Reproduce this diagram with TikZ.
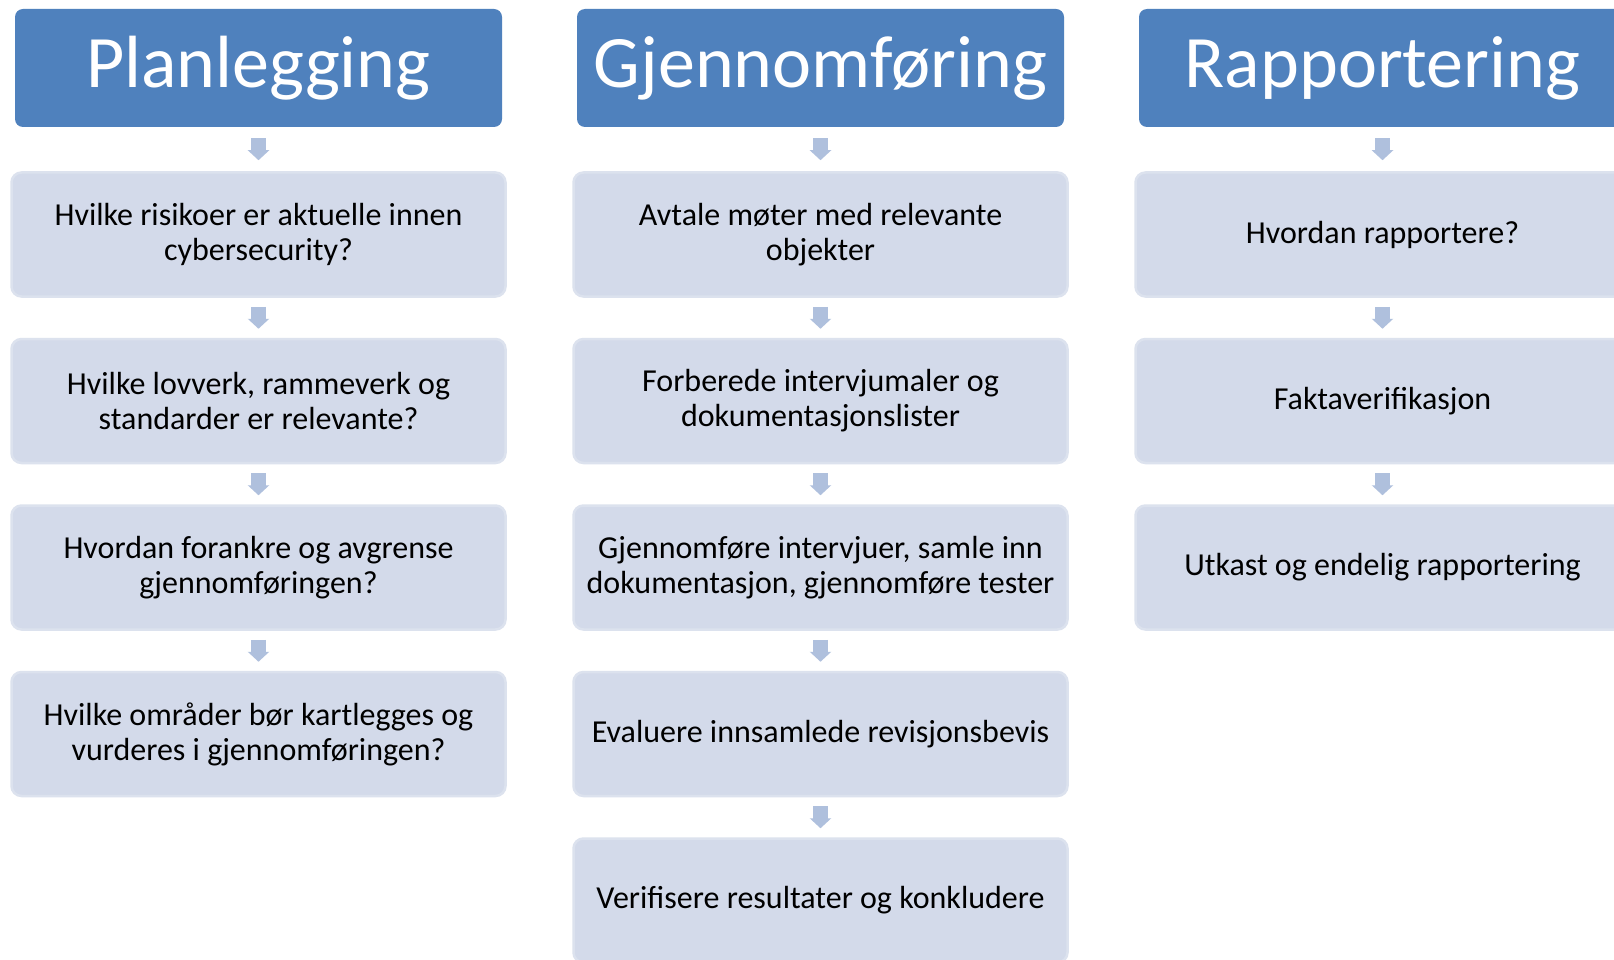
\documentclass[tikz,border=0pt]{standalone}
\usepackage{fontspec}
\setmainfont{Carlito}
\usetikzlibrary{calc,arrows.meta}

\definecolor{headblue}{HTML}{4F81BD}
\definecolor{boxfill}{HTML}{D3DAEA}
\definecolor{boxline}{HTML}{DCE2EE}
\definecolor{arrowblue}{HTML}{AFC0DD}

\tikzset{
  phasebox/.style={fill=headblue, rounded corners=8pt, minimum width=487pt, minimum height=118pt,
    inner sep=0pt, text=white, font=\fontsize{74}{89}\selectfont},
  taskbox/.style={fill=boxfill, draw=boxline, line width=2.5pt, rounded corners=10pt,
    minimum width=494pt, minimum height=124pt, inner sep=0pt, align=center,
    font=\fontsize{32}{35}\selectfont},
  conn/.style={arrowblue, line width=14.5pt, -{Triangle[width=21pt,length=10pt]}}
}

\begin{document}
\begin{tikzpicture}[x=1pt, y=-1pt]
% Page
\clip (0,0) rectangle (1614,960);
\fill[white] (0,0) rectangle (1614,960);

% Headers
\node[phasebox] (plan0) at (258.5,68) {Planlegging};
\node[phasebox] (gjen0) at (820.5,68) {Gjennomføring};
\node[phasebox] (rapp0) at (1382.5,68) {Rapportering};

% Planlegging
\node[taskbox] (plan1) at (258.5,234.5) {Hvilke risikoer er aktuelle innen\\cybersecurity?};
\node[taskbox] (plan2) at (258.5,401) {Hvilke lovverk, rammeverk og\\standarder er relevante?};
\node[taskbox] (plan3) at (258.5,567.5) {Hvordan forankre og avgrense\\gjennomføringen?};
\node[taskbox] (plan4) at (258.5,734) {Hvilke områder bør kartlegges og\\vurderes i gjennomføringen?};

% Gjennomføring
\node[taskbox] (gjen1) at (820.5,234.5) {Avtale møter med relevante\\objekter};
\node[taskbox] (gjen2) at (820.5,401) {Forberede intervjumaler og\\dokumentasjonslister};
\node[taskbox] (gjen3) at (820.5,567.5) {Gjennomføre intervjuer, samle inn\\dokumentasjon, gjennomføre tester};
\node[taskbox] (gjen4) at (820.5,734) {Evaluere innsamlede revisjonsbevis};
\node[taskbox] (gjen5) at (820.5,900.5) {Verifisere resultater og konkludere};

% Rapportering
\node[taskbox] (rapp1) at (1382.5,234.5) {Hvordan rapportere?};
\node[taskbox] (rapp2) at (1382.5,401) {Faktaverifikasjon};
\node[taskbox] (rapp3) at (1382.5,567.5) {Utkast og endelig rapportering};

% Arrows
\foreach \a/\b in {plan0/plan1, plan1/plan2, plan2/plan3, plan3/plan4,
                   gjen0/gjen1, gjen1/gjen2, gjen2/gjen3, gjen3/gjen4, gjen4/gjen5,
                   rapp0/rapp1, rapp1/rapp2, rapp2/rapp3} {
  \draw[conn] ($(\a.south)!0.5!(\b.north)+(0,-11)$) -- ($(\a.south)!0.5!(\b.north)+(0,11)$);
}
\end{tikzpicture}
\end{document}
